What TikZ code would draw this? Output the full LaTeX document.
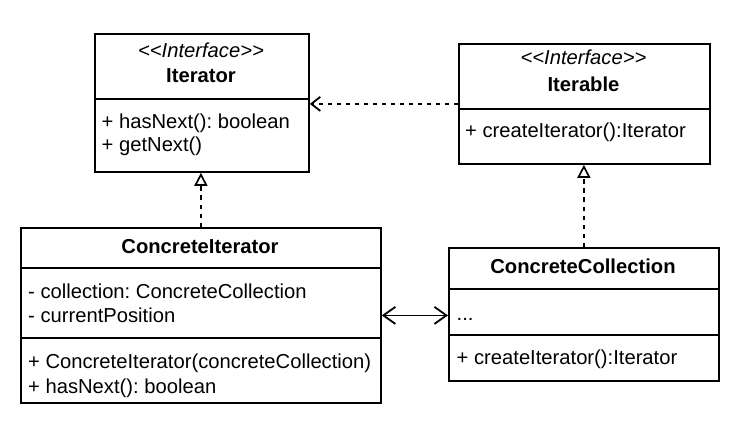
\documentclass[tikz,border=0pt]{standalone}
\usepackage{fontspec}
\setmainfont{Liberation Sans}[Ligatures=TeXOff]
\usetikzlibrary{arrows.meta}
\frenchspacing
\begin{document}
\begin{tikzpicture}[x=1pt,y=-1pt,
  box/.style={draw=black, line width=1.8pt, anchor=north west, inner sep=0pt, fill=white},
  txt/.style={inner sep=0pt, anchor=base west, font=\fontsize{20.2}{24}\selectfont, text=black},
  ttl/.style={inner sep=0pt, anchor=base, font=\fontsize{20.2}{24}\selectfont\bfseries, text=black},
  stereo/.style={inner sep=0pt, anchor=base, font=\fontsize{20.2}{24}\selectfont\itshape, text=black},
  divider/.style={line width=1.8pt, draw=black},
  realize/.style={line width=1.8pt, dash pattern=on 4.5pt off 4.5pt, -{Triangle[open,length=13pt,width=13pt,line width=1.7pt]}},
  depend/.style={line width=1.8pt, dash pattern=on 4.5pt off 4.5pt, -{Straight Barb[length=9pt,width=14pt,line width=1.8pt]}},
  assoc/.style={line width=1.8pt, {Straight Barb[length=12pt,width=17pt,line width=1.8pt]}-{Straight Barb[length=12pt,width=17pt,line width=1.8pt]}}
]
\fill[white] (0,0) rectangle (742,425);
\useasboundingbox (0,0) rectangle (742,425);

% Iterator
\node[box, minimum width=214pt, minimum height=138pt] (iter) at (94,33) {};
\draw[divider] (iter.west |- 0,99) -- (iter.east |- 0,99);
\node[stereo] (iters) at (201,58) {<<Interface>>};
\node[ttl] (itert) at (201,83) {Iterator};
\node[txt] (iterm1) at (101.5,128.7) {+ hasNext(): boolean};
\node[txt] (iterm2) at (101.5,151.7) {+ getNext()};

% Iterable
\node[box, minimum width=251pt, minimum height=120pt] (ible) at (458,43) {};
\draw[divider] (ible.west |- 0,109) -- (ible.east |- 0,109);
\node[stereo] (ibles) at (583.5,64.7) {<<Interface>>};
\node[ttl] (iblet) at (583.5,92) {Iterable};
\node[txt] (iblem1) at (465,138) {+ createIterator():Iterator};

% ConcreteIterator
\node[box, minimum width=360pt, minimum height=175pt] (ci) at (20,227) {};
\draw[divider] (ci.west |- 0,268) -- (ci.east |- 0,268);
\node[ttl] (cit) at (200,253.3) {ConcreteIterator};
\draw[divider] (ci.west |- 0,338) -- (ci.east |- 0,338);
\node[txt] (cia1) at (28,298.3) {- collection: ConcreteCollection};
\node[txt] (cia2) at (28,322.3) {- currentPosition};
\node[txt] (cim1) at (28,368.3) {+ ConcreteIterator(concreteCollection)};
\node[txt] (cim2) at (28,393.3) {+ hasNext(): boolean};

% ConcreteCollection
\node[box, minimum width=270pt, minimum height=133pt] (cc) at (448,247) {};
\draw[divider] (cc.west |- 0,289) -- (cc.east |- 0,289);
\draw[divider] (cc.west |- 0,335) -- (cc.east |- 0,335);
\node[ttl] (cct) at (583,273.3) {ConcreteCollection};
\node[txt] (cca1) at (456.5,320) {...};
\node[txt] (ccm1) at (456.5,364) {+ createIterator():Iterator};

% connectors
\draw[depend] (ible.west) -- (ible.west -| iter.east);
\draw[realize] (ci.north) -- (ci.north |- iter.south);
\draw[realize] (cc.north) -- (cc.north |- ible.south);
\draw[assoc] (ci.east) -- (ci.east -| cc.west);
\end{tikzpicture}
\end{document}
